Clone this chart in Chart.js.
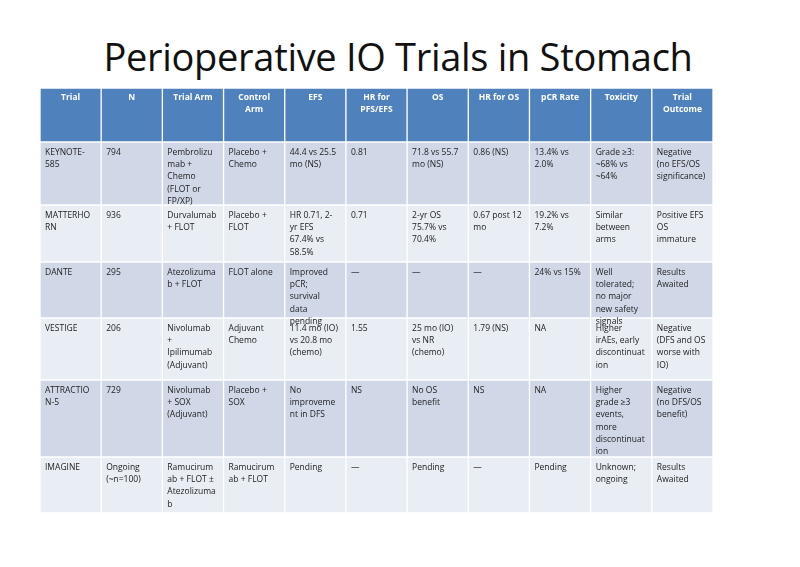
<!DOCTYPE html>
<html>
<head>
<meta charset="utf-8">
<script src="https://cdn.jsdelivr.net/npm/chart.js@4"></script>
<style>
  body { margin: 0; background: #fff; }
  #wrap { position: relative; width: 800px; height: 567px; }
  h1 { position: absolute; left: 0; top: 30px; width: 796px; margin: 0; text-align: center;
       font: 38px "Open Sans", "Liberation Sans", sans-serif; color: #111; letter-spacing: -0.3px; }
  canvas { position: absolute; left: 0; top: 0; }
</style>
</head>
<body>
<div id="wrap">
  <h1>Perioperative IO Trials in Stomach</h1>
  <canvas id="table" width="800" height="567"></canvas>
</div>
<script>
const columns = ["Trial", "N", "Trial Arm", "Control\nArm", "EFS", "HR for\nPFS/EFS", "OS", "HR for OS", "pCR Rate", "Toxicity", "Trial\nOutcome"];
// row edges in table units (top to bottom), header first
const rowEdges = [0, 54, 117, 174, 230, 292, 369, 425];

const keynote = ["KEYNOTE-\n585", "794", "Pembrolizu\nmab +\nChemo\n(FLOT or\nFP/XP)", "Placebo +\nChemo", "44.4 vs 25.5\nmo (NS)", "0.81", "71.8 vs 55.7\nmo (NS)", "0.86 (NS)", "13.4% vs\n2.0%", "Grade ≥3:\n~68% vs\n~64%", "Negative\n(no EFS/OS\nsignificance)"];
const matterhorn = ["MATTERHO\nRN", "936", "Durvalumab\n+ FLOT", "Placebo +\nFLOT", "HR 0.71, 2-\nyr EFS\n67.4% vs\n58.5%", "0.71", "2-yr OS\n75.7% vs\n70.4%", "0.67 post 12\nmo", "19.2% vs\n7.2%", "Similar\nbetween\narms", "Positive EFS\nOS\nimmature"];
const dante = ["DANTE", "295", "Atezolizuma\nb + FLOT", "FLOT alone", "Improved\npCR;\nsurvival\ndata\npending", "—", "—", "—", "24% vs 15%", "Well\ntolerated;\nno major\nnew safety\nsignals", "Results\nAwaited"];
const vestige = ["VESTIGE", "206", "Nivolumab\n+\nIpilimumab\n(Adjuvant)", "Adjuvant\nChemo", "11.4 mo (IO)\nvs 20.8 mo\n(chemo)", "1.55", "25 mo (IO)\nvs NR\n(chemo)", "1.79 (NS)", "NA", "Higher\nirAEs, early\ndiscontinuat\nion", "Negative\n(DFS and OS\nworse with\nIO)"];
const attraction = ["ATTRACTIO\nN-5", "729", "Nivolumab\n+ SOX\n(Adjuvant)", "Placebo +\nSOX", "No\nimproveme\nnt in DFS", "NS", "No OS\nbenefit", "NS", "NA", "Higher\ngrade ≥3\nevents,\nmore\ndiscontinuat\nion", "Negative\n(no DFS/OS\nbenefit)"];
const imagine = ["IMAGINE", "Ongoing\n(~n=100)", "Ramucirum\nab + FLOT ±\nAtezolizuma\nb", "Ramucirum\nab + FLOT", "Pending", "—", "Pending", "—", "Pending", "Unknown;\nongoing", "Results\nAwaited"];
const rows = [keynote, matterhorn, dante, vestige, attraction, imagine];

const headerColor = "#4f81bd";
const rowColors = ["#d0d8e8", "#e9edf4"];

const datasets = [{
  data: columns.map(() => [rowEdges[0], rowEdges[1]]),
  backgroundColor: headerColor,
  cellText: columns,
  header: true
}];
rows.forEach((r, i) => {
  datasets.push({
    data: columns.map(() => [rowEdges[i + 1], rowEdges[i + 2]]),
    backgroundColor: rowColors[i % 2],
    cellText: r
  });
});
datasets.forEach(d => {
  d.borderColor = "#ffffff";
  d.borderWidth = 1;
  d.borderSkipped = false;
  d.categoryPercentage = 1;
  d.barPercentage = 1;
  d.grouped = false;
});

// writes the cell texts using the scale positions
const cellTextPlugin = {
  id: "cellText",
  afterDatasetsDraw(chart) {
    const ctx = chart.ctx;
    const x = chart.scales.x, y = chart.scales.y;
    const half = (x.getPixelForValue(1) - x.getPixelForValue(0)) / 2;
    ctx.save();
    ctx.textBaseline = "top";
    chart.data.datasets.forEach((ds, ri) => {
      ds.cellText.forEach((txt, ci) => {
        const top = y.getPixelForValue(ds.data[ci][0]);
        const cx = x.getPixelForValue(ci);
        const lines = txt.split("\n");
        if (ds.header) {
          ctx.font = "bold 8.5px 'Open Sans', sans-serif";
          ctx.fillStyle = "#ffffff";
          ctx.textAlign = "center";
          lines.forEach((l, k) => ctx.fillText(l, cx, top + 5 + k * 12));
        } else {
          ctx.font = "8.5px 'Open Sans', sans-serif";
          ctx.fillStyle = "#222222";
          ctx.textAlign = "left";
          lines.forEach((l, k) => ctx.fillText(l, cx - half + 5, top + 6 + k * 12.3));
        }
      });
    });
    ctx.restore();
  }
};

new Chart(document.getElementById("table"), {
  type: "bar",
  data: { labels: columns, datasets: datasets },
  options: {
    responsive: false,
    animation: false,
    layout: { padding: { left: 40, right: 87, top: 88, bottom: 54 } },
    plugins: { legend: { display: false }, tooltip: { enabled: false } },
    scales: {
      x: { display: false, stacked: false, offset: true },
      y: { display: false, reverse: true, min: 0, max: 425 }
    }
  },
  plugins: [cellTextPlugin]
});
</script>
</body>
</html>
